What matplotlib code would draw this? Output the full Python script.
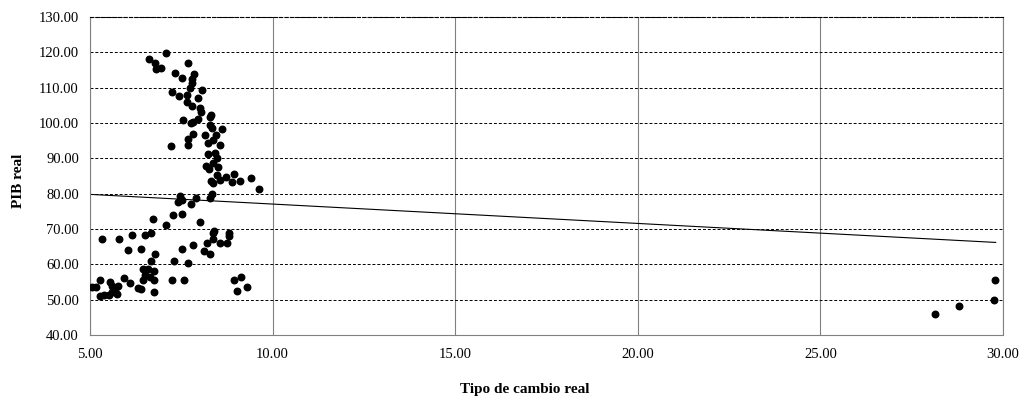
import numpy as np
import matplotlib
matplotlib.use("Agg")
import matplotlib.pyplot as plt

# tipo de cambio real (x) and PIB real (y)
tcr = [7.07, 6.62, 6.78, 6.81, 6.95, 7.68, 7.32, 7.52, 7.85, 7.80, 7.78, 7.74, 8.08, 7.25,
       7.44, 7.65, 7.95, 7.65, 7.80, 8.00, 8.04, 8.32,
       7.56, 7.77, 7.83, 7.97, 8.29, 8.29, 8.33, 8.62, 7.83, 7.69, 7.68, 7.22, 8.15, 8.45,
       8.38, 8.24, 8.56, 8.24, 8.42, 8.47, 8.36, 8.19, 8.26, 8.51, 8.47, 8.73, 8.93, 8.30,
       8.38, 8.56, 8.88, 9.11, 9.41, 9.63, 8.33, 8.29, 7.47, 7.51, 7.76, 7.90,
       7.40, 7.28, 7.53, 6.73, 7.07, 5.32, 5.80, 6.16, 6.51, 6.67, 6.03, 6.41, 6.78, 6.66,
       7.51, 7.31, 6.46, 6.60, 6.74, 6.51, 6.64, 6.74, 6.46, 6.32, 6.41, 6.74, 7.25, 7.58,
       5.94, 6.10, 5.27, 5.05, 5.16, 5.55, 5.59, 5.78, 5.68, 5.27, 5.37, 5.53, 5.73, 5.59,
       8.01, 8.40, 8.38, 8.81, 8.81, 8.38, 8.20, 8.56, 8.74, 7.81, 8.13, 8.29, 7.67, 8.95,
       9.14, 9.30, 9.02,
       29.79, 29.75, 28.79, 28.14]
pib = [119.7, 118.0, 117.1, 115.2, 115.5, 116.9, 114.2, 112.6, 113.8, 112.4, 111.2, 109.8, 109.3, 108.7,
       107.6, 107.9, 107.2, 106.0, 104.8, 104.3, 103.0, 102.3,
       100.8, 99.9, 100.4, 101.0, 101.8, 99.4, 98.5, 98.2, 96.8, 95.4, 93.7, 93.4, 96.6, 96.6,
       95.2, 94.4, 93.9, 91.1, 91.4, 90.1, 88.6, 87.8, 86.9, 87.5, 85.3, 84.8, 85.5, 83.7,
       82.9, 83.9, 83.4, 83.7, 84.5, 81.3, 79.9, 78.7, 79.3, 78.2, 77.1, 78.7,
       77.7, 74.0, 74.2, 72.8, 71.1, 67.1, 67.1, 68.3, 68.3, 68.8, 64.0, 64.3, 62.8, 60.9,
       64.2, 61.0, 58.7, 58.7, 58.2, 57.0, 56.5, 55.6, 55.6, 53.2, 52.9, 52.3, 55.6, 55.7,
       56.1, 54.8, 55.6, 53.5, 53.5, 55.1, 53.9, 53.9, 52.9, 51.0, 51.3, 51.3, 51.6, 52.3,
       71.9, 69.5, 68.8, 68.8, 68.0, 67.3, 66.0, 66.0, 66.0, 65.5, 63.9, 62.9, 60.3, 55.7,
       56.5, 53.7, 52.4,
       55.6, 50.0, 48.2, 45.9]

# linear trendline ends
trend_x = [5.0, 29.8]
trend_y = [79.8, 66.2]

plt.rcParams['font.family'] = ['Liberation Serif', 'DejaVu Serif']

fig = plt.figure(figsize=(10.23, 3.98), dpi=100)
ax = fig.add_axes([90/1023, 1 - 335/398, 913/1023, 318/398])

ax.scatter(tcr, pib, s=22, color='black', zorder=3)
ax.plot(trend_x, trend_y, color='black', lw=0.8, zorder=2)

ax.set_xlim(5, 30)
ax.set_ylim(40, 130)
ax.set_xticks(np.arange(5, 31, 5))
ax.set_yticks(np.arange(40, 131, 10))
ax.xaxis.set_major_formatter(matplotlib.ticker.FormatStrFormatter('%.2f'))
ax.yaxis.set_major_formatter(matplotlib.ticker.FormatStrFormatter('%.2f'))
ax.tick_params(length=0, labelsize=10.5)
ax.tick_params(axis='x', pad=9)
ax.tick_params(axis='y', pad=8)

ax.yaxis.grid(True, color='black', linestyle=(0, (3, 2)), lw=0.7)
ax.xaxis.grid(True, color='#808080', linestyle='-', lw=0.8)
ax.set_axisbelow(True)
for s in ax.spines.values():
    s.set_color('#808080')
    s.set_linewidth(0.8)
ax.spines['top'].set_linestyle((0, (3, 2)))
ax.spines['top'].set_color('black')
ax.spines['right'].set_linestyle((0, (1, 1)))
ax.spines['bottom'].set_linestyle((0, (1, 1)))

fig.text(525/1023, 1 - 390/398, 'Tipo de cambio real', ha='center', va='center',
         fontsize=11, fontweight='bold')
fig.text(18/1023, 1 - 181/398, 'PIB real', ha='center', va='center', rotation=90,
         fontsize=11, fontweight='bold')

fig.savefig('out.png', dpi=100)
